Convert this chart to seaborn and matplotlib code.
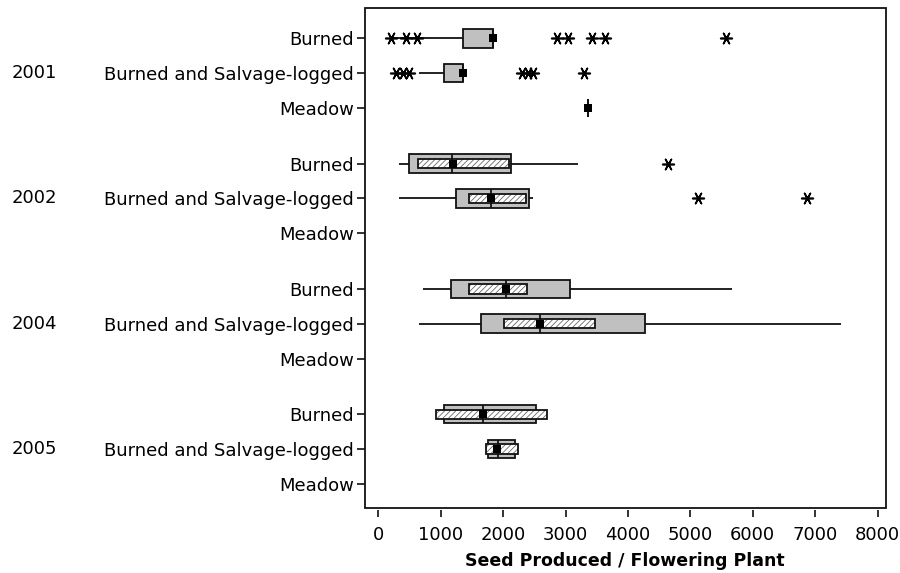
import numpy as np
import pandas as pd
import matplotlib
matplotlib.use("Agg")
import matplotlib.pyplot as plt
import matplotlib.transforms as mtransforms
from matplotlib.patches import Rectangle
import seaborn as sns

# ---------------- data ----------------
years = ["2001", "2002", "2004", "2005"]
sites = ["Burned", "Burned and Salvage-logged", "Meadow"]

box_year = ["2001", "2001", "2001", "2002", "2002", "2004", "2004", "2005", "2005"]
box_site = ["Burned", "Burned and Salvage-logged", "Meadow",
            "Burned", "Burned and Salvage-logged",
            "Burned", "Burned and Salvage-logged",
            "Burned", "Burned and Salvage-logged"]
whisker_low = [204, 660, 3361, 337, 337, 712, 658, 1060, 1756]
q1 = [1355, 1060, 3361, 498, 1247, 1167, 1644, 1060, 1756]
median = [1836, 1355, 3361, 1188, 1804, 2045, 2595, 1675, 1916]
q3 = [1836, 1355, 3361, 2125, 2419, 3077, 4270, 2526, 2183]
whisker_high = [1836, 1355, 3361, 3194, 2472, 5672, 7407, 2526, 2183]
ci_low = [np.nan, np.nan, np.nan, 642, 1461, 1461, 2018, 926, 1729]
ci_high = [np.nan, np.nan, np.nan, 2087, 2371, 2382, 3478, 2708, 2231]
mean = [1840, 1360, 3361, 1204, 1809, 2045, 2595, 1675, 1900]

out_year = ["2001"] * 8 + ["2001"] * 7 + ["2002"] + ["2002"] * 2
out_site = (["Burned"] * 8 + ["Burned and Salvage-logged"] * 7 + ["Burned"]
            + ["Burned and Salvage-logged"] * 2)
out_value = [204, 440, 616, 2864, 3034, 3425, 3639, 5565,
             283, 395, 491, 2306, 2402, 2482, 3302,
             4639,
             5120, 6876]

xticks = [0, 1000, 2000, 3000, 4000, 5000, 6000, 7000, 8000]
xlabel = "Seed Produced / Flowering Plant"

# ---------------- layout helpers ----------------
GROUP_STEP = 3.6
def row_pos(year, site):
    return years.index(year) * GROUP_STEP + sites.index(site)

boxes = pd.DataFrame(dict(year=box_year, site=box_site, wlo=whisker_low, q1=q1,
                          med=median, q3=q3, whi=whisker_high,
                          cilo=ci_low, cihi=ci_high, mean=mean))
boxes["pos"] = [row_pos(y, s) for y, s in zip(boxes.year, boxes.site)]
outl = pd.DataFrame(dict(year=out_year, site=out_site, value=out_value))
outl["pos"] = [row_pos(y, s) for y, s in zip(outl.year, outl.site)]

# ---------------- style ----------------
sns.set_style("white")
plt.rcParams["font.family"] = ["DejaVu Sans"]
plt.rcParams["hatch.linewidth"] = 0.6
plt.rcParams["text.color"] = "black"
plt.rcParams["axes.labelcolor"] = "black"
plt.rcParams["xtick.color"] = "black"
plt.rcParams["ytick.color"] = "black"

EDGE = "#111111"
GRAY = "#c0c0c0"
LW = 1.3
BOX_H = 0.53
CI_H = 0.27
FS = 13

fig = plt.figure(figsize=(9, 5.73), dpi=100)
ax = fig.add_axes([0.405, 0.1143, 0.5789, 0.8717])

# whiskers
ax.hlines(boxes.pos, boxes.wlo, boxes.q1, color=EDGE, lw=LW, zorder=1)
ax.hlines(boxes.pos, boxes.q3, boxes.whi, color=EDGE, lw=LW, zorder=1)

# IQR boxes
ax.barh(boxes.pos, boxes.q3 - boxes.q1, left=boxes.q1, height=BOX_H,
        color=GRAY, edgecolor=EDGE, linewidth=LW, zorder=2)

# median confidence boxes
ci = boxes.dropna(subset=["cilo"])
ax.barh(ci.pos, ci.cihi - ci.cilo, left=ci.cilo, height=CI_H,
        color="white", edgecolor="#6a6a6a", hatch="//////", linewidth=0, zorder=3)
ax.barh(ci.pos, ci.cihi - ci.cilo, left=ci.cilo, height=CI_H,
        fill=False, edgecolor=EDGE, linewidth=LW, zorder=4)

# medians
ax.vlines(boxes.med, boxes.pos - BOX_H / 2, boxes.pos + BOX_H / 2,
          color=EDGE, lw=LW, zorder=5)

# means
sns.scatterplot(data=boxes, x="mean", y="pos", marker="s", s=36, color="black",
                edgecolor="black", linewidth=0, zorder=6, ax=ax, legend=False)

# outliers
sns.scatterplot(data=outl, x="value", y="pos", marker=(6, 2, 90), s=70,
                color="black", linewidth=1.2, zorder=6, ax=ax, legend=False)

# ---------------- axes ----------------
ax.set_xlim(-221, 8128)
ax.set_ylim(13.48, -0.87)
ax.set_xticks(xticks)
ax.set_xticklabels([str(v) for v in xticks])
ypos = [row_pos(y, s) for y in years for s in sites]
ax.set_yticks(ypos)
ax.set_yticklabels([s for y in years for s in sites])
ax.set_xlabel(xlabel, fontsize=12.5, fontweight="bold", labelpad=6, color="black")
ax.set_ylabel("")

for sp in ax.spines.values():
    sp.set_visible(False)
ax.spines["bottom"].set_position(("outward", 2))
ax.add_patch(Rectangle((0, 0), 1, 1, transform=ax.transAxes, fill=False,
                       edgecolor=EDGE, linewidth=LW, clip_on=False, zorder=10))

ax.tick_params(axis="x", direction="out", length=5, width=1.2, pad=6,
               labelsize=FS, colors=EDGE, labelcolor="black", bottom=True)
ax.tick_params(axis="y", direction="out", length=6, width=1.2, pad=1.5,
               labelsize=FS, colors=EDGE, labelcolor="black", left=True)

trans = mtransforms.blended_transform_factory(fig.transFigure, ax.transData)
for y in years:
    ax.text(0.0133, row_pos(y, sites[1]), y, transform=trans, ha="left",
            va="center", fontsize=FS, color="black")

fig.savefig("out.png", dpi=100)
